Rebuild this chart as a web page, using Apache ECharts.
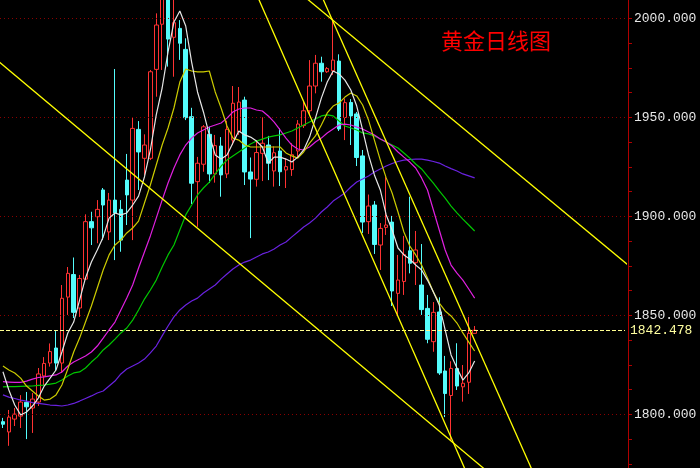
<!DOCTYPE html>
<html><head><meta charset="utf-8">
<script src="https://cdn.jsdelivr.net/npm/echarts@6/dist/echarts.min.js"></script>
<style>html,body{margin:0;padding:0;background:#000}#c{width:700px;height:468px}</style>
</head><body><div id="c"></div>
<script>
// ---- data ----
const slotCount = 106; // 81 trading days + empty room on the right
const categories = Array.from({length: slotCount}, (_, i) => String(i));

const opens = [1796.3,1791.1,1797.6,1799.1,1806.1,1803.2,1806.2,1819.4,1825.9,1833.5,
1825.9,1859.2,1870.6,1853.7,1868.3,1897.3,1899.8,1913.3,1892.1,1908.2,
1903.5,1918.3,1908.2,1943.9,1929.3,1929.3,1974.2,1997.0,2014.3,1990.4,
1994.9,1984.3,1950.3,1917.5,1926.3,1941.4,1921.4,1935.5,1921.4,1938.5,
1942.7,1958.7,1922.4,1918.7,1931.8,1936.0,1922.9,1933.0,1923.4,1923.6,
1933.0,1945.8,1953.3,1965.8,1977.3,1973.0,1973.5,1978.4,1949.9,1957.5,
1951.7,1930.5,1897.3,1905.7,1885.5,1894.4,1897.1,1861.1,1867.1,1882.6,
1876.6,1865.3,1853.5,1836.7,1851.7,1821.9,1809.5,1823.1,1813.9,1816.2,1840.9];
const closes = [1795.0,1798.6,1800.1,1806.2,1803.8,1807.7,1820.4,1825.7,1831.7,1825.9,
1858.6,1871.2,1851.5,1868.6,1897.3,1894.2,1903.5,1905.7,1908.2,1901.7,
1888.0,1910.8,1944.4,1932.5,1936.0,1973.0,1996.6,2015.3,1989.5,1997.8,
1987.4,1949.8,1916.7,1926.8,1945.2,1921.4,1935.7,1920.9,1943.9,1957.1,
1957.7,1922.4,1918.8,1932.2,1936.9,1926.8,1932.1,1922.5,1925.1,1931.1,
1946.6,1953.3,1965.8,1977.3,1973.0,1974.6,1978.9,1944.1,1957.4,1950.7,
1929.7,1897.1,1905.2,1885.8,1893.9,1895.6,1862.3,1867.8,1880.7,1876.3,
1883.0,1852.9,1837.9,1851.5,1820.9,1810.5,1823.2,1814.3,1815.7,1840.9,1842.478];
const lows = [1793.1,1784.1,1794.1,1793.1,1787.5,1790.6,1804.2,1814.8,1824.1,1821.9,
1820.9,1850.2,1848.6,1849.2,1867.8,1885.5,1886.4,1888.0,1888.0,1877.9,
1882.1,1895.6,1888.0,1913.3,1920.9,1928.4,1960.4,1973.9,1975.6,1970.5,
1979.0,1948.6,1906.2,1894.7,1922.5,1916.8,1917.0,1909.9,1919.3,1936.0,
1941.1,1915.8,1889.0,1915.0,1917.8,1918.3,1915.0,1915.3,1914.3,1920.4,
1929.4,1944.6,1951.2,1962.1,1968.0,1972.4,1971.4,1943.1,1938.5,1936.0,
1925.4,1891.6,1891.1,1881.0,1872.9,1890.6,1854.7,1849.7,1860.3,1871.2,
1865.3,1850.2,1835.9,1831.6,1819.9,1798.6,1786.5,1812.3,1806.4,1810.3,1840.9];
const highs = [1798.2,1802.2,1803.2,1809.7,1811.3,1810.8,1823.4,1828.9,1835.8,1842.1,
1865.3,1874.4,1879.2,1870.4,1901.0,1902.3,1908.2,1914.3,1911.8,1974.4,
1908.2,1931.5,1950.0,1948.1,1941.4,1973.9,2002.5,2019.3,2016.8,2011.8,
1999.1,1989.9,1954.8,1930.0,1946.1,1945.2,1941.1,1940.0,1948.3,1965.8,
1965.3,1960.4,1929.7,1938.3,1950.0,1940.6,1935.3,1944.4,1929.3,1936.9,
1948.6,1957.9,1978.9,1981.5,1980.6,1975.4,1999.1,1981.8,1959.5,1959.2,
1952.7,1933.5,1911.0,1907.7,1896.6,1920.0,1900.2,1880.5,1890.1,1909.9,
1892.6,1886.0,1860.3,1856.7,1859.1,1829.5,1826.8,1835.9,1824.9,1849.2,1844.6];

const ma5 = [1821.5,1812.3,1804.7,1799.7,1801.2,1804.2,1808.2,1814.3,1818.3,1822.4,
1831.5,1841.1,1846.6,1857.7,1868.9,1876.9,1883.0,1889.6,1899.1,1901.7,
1900.7,1901.7,1905.7,1910.2,1919.9,1933.5,1951.2,1964.8,1983.0,1998.1,
2003.7,1996.1,1977.9,1962.8,1952.7,1941.1,1931.0,1928.9,1931.0,1937.0,
1943.1,1941.1,1940.0,1938.0,1935.0,1926.9,1929.9,1929.9,1928.9,1927.4,
1929.9,1933.5,1940.0,1949.6,1959.7,1967.8,1973.4,1971.9,1968.8,1963.8,
1955.7,1943.6,1931.0,1920.9,1913.3,1900.7,1893.1,1884.0,1880.5,1878.4,
1875.4,1872.9,1867.8,1861.8,1855.2,1842.6,1830.0,1823.4,1817.3,1820.9,1826.9];
const ma10 = [1824.4,1822.4,1820.9,1818.3,1814.3,1811.8,1809.3,1807.2,1807.7,1809.8,
1814.8,1822.9,1831.5,1838.5,1846.6,1854.7,1863.8,1872.9,1880.5,1885.5,
1888.0,1891.6,1894.1,1897.6,1906.7,1915.8,1925.9,1936.0,1944.6,1954.7,
1967.8,1974.4,1973.4,1972.9,1972.9,1973.4,1962.8,1954.7,1945.6,1939.5,
1938.5,1936.0,1935.0,1935.0,1935.0,1935.0,1935.0,1935.0,1932.0,1930.5,
1929.4,1932.5,1937.0,1940.6,1946.1,1952.2,1955.7,1957.2,1960.2,1962.3,
1960.8,1956.2,1948.6,1938.5,1928.4,1919.4,1911.8,1902.2,1892.1,1885.0,
1880.5,1875.4,1868.9,1861.8,1856.2,1852.2,1849.7,1846.1,1841.1,1836.5,1832.0];
const ma20 = [1816.5,1816.3,1816.1,1816.1,1816.8,1817.8,1818.6,1818.9,1819.4,1819.9,
1821.4,1824.4,1826.4,1827.9,1829.5,1831.5,1834.5,1838.5,1842.6,1846.6,
1852.7,1858.7,1865.3,1873.9,1882.0,1890.1,1899.1,1908.2,1916.8,1924.4,
1931.0,1936.0,1939.5,1942.1,1943.6,1945.1,1946.1,1947.1,1949.6,1952.7,
1954.2,1954.7,1954.7,1953.7,1953.2,1950.7,1947.6,1943.6,1939.5,1936.0,
1934.0,1933.5,1935.0,1937.5,1939.5,1942.1,1944.1,1946.1,1946.6,1946.1,
1945.1,1944.1,1942.6,1941.1,1939.0,1937.5,1935.5,1932.5,1929.9,1927.4,
1924.4,1919.4,1913.3,1903.2,1893.1,1883.0,1875.4,1871.3,1867.8,1863.3,1858.7];
const ma30 = [1813.9,1814.0,1814.0,1814.1,1814.2,1814.3,1814.6,1814.8,1815.3,1815.8,
1817.3,1819.4,1820.9,1821.4,1823.4,1826.4,1829.0,1832.5,1835.0,1838.0,
1841.1,1843.6,1847.6,1852.7,1858.2,1862.8,1867.8,1874.4,1880.5,1885.5,
1893.1,1900.7,1905.7,1910.8,1914.3,1917.3,1921.4,1925.4,1928.4,1930.5,
1932.5,1934.5,1936.5,1938.0,1939.0,1940.0,1940.6,1941.1,1942.1,1943.1,
1944.6,1946.1,1947.6,1949.1,1950.7,1951.2,1950.7,1948.1,1945.6,1944.6,
1943.6,1942.1,1941.6,1940.6,1939.0,1937.5,1936.0,1934.5,1932.0,1929.4,
1926.4,1923.9,1920.3,1916.8,1912.8,1909.2,1905.2,1901.7,1898.6,1895.6,1892.6];
const ma60 = [1809.8,1808.7,1808.0,1807.2,1806.7,1805.9,1805.5,1805.2,1804.7,1804.5,
1804.2,1804.7,1805.5,1806.7,1808.0,1809.3,1810.8,1811.8,1814.3,1816.8,
1820.4,1822.9,1824.4,1825.9,1827.9,1831.0,1834.5,1839.6,1844.6,1849.2,
1852.7,1855.2,1857.2,1858.7,1861.3,1863.3,1865.3,1868.3,1870.9,1873.4,
1875.4,1876.9,1877.9,1879.5,1881.0,1882.0,1883.5,1885.5,1887.0,1889.6,
1892.1,1894.6,1896.6,1899.1,1902.2,1904.7,1907.7,1909.7,1911.8,1914.8,
1917.3,1918.8,1920.4,1922.4,1923.9,1925.4,1926.7,1927.7,1928.4,1928.7,
1928.9,1928.9,1928.4,1927.7,1926.9,1925.4,1924.1,1922.9,1921.4,1920.4,1919.4];

// hand-drawn trend lines: [dayIndex, price] endpoints
const trendA = [[-0.74, 1978.2], [82.74, 1769.7]];
const trendB = [[43.11, 2011.5], [78.69, 1770.1]];
const trendC = [[53.90, 2012.3], [89.99, 1770.2]];
const trendD = [[50.70, 2012.0], [108.03, 1870.4]];

const gridLevels = [1800, 1850, 1900, 1950, 2000];
const minorTicks = [1775,1787.5,1800,1812.5,1825,1837.5,1850,1862.5,1875,1887.5,1900,1912.5,1925,1937.5,1950,1962.5,1975,1987.5,2000];
const lastPrice = 1842.478;
const titleText = '黄金日线图';

// ---- chart ----
const kData = opens.map((o, i) => [o, closes[i], lows[i], highs[i]]);
const chart = echarts.init(document.getElementById('c'), null, {renderer: 'canvas'});
const maLine = (name, data, color) => ({
  name, type: 'line', data, xAxisIndex: 0, yAxisIndex: 0, showSymbol: false, symbol: 'none',
  smooth: false, z: 5, silent: true, lineStyle: {color, width: 1.2}
});
const trend = (name, data) => ({
  name, type: 'line', data, xAxisIndex: 1, yAxisIndex: 0, showSymbol: false, symbol: 'none',
  z: 6, silent: true, clip: true, lineStyle: {color: '#ffff00', width: 1.3}
});
chart.setOption({
  animation: false,
  backgroundColor: '#000000',
  title: {
    text: titleText, left: 441, top: 30, padding: 0,
    textStyle: {color: '#ff0000', fontSize: 22, fontWeight: 'normal', fontFamily: 'Noto Sans CJK SC'}
  },
  grid: {left: -3.6, right: 75, top: 0, bottom: 0, containLabel: false},
  xAxis: [
    {type: 'category', data: categories, boundaryGap: true, show: false},
    {type: 'value', min: -0.5, max: slotCount - 0.5, show: false}
  ],
  yAxis: {
    type: 'value', position: 'right', offset: 3, min: 1772.9, max: 2009.24,
    splitLine: {show: false},
    axisLine: {show: true, onZero: false, lineStyle: {color: '#b00000', width: 1}},
    axisTick: {show: true, inside: false, length: 4, customValues: minorTicks, lineStyle: {color: '#b00000'}},
    axisLabel: {
      show: true, customValues: gridLevels, margin: 6, color: '#e8e8e8',
      fontFamily: 'Liberation Mono', fontSize: 13,
      formatter: v => Number(v).toFixed(3)
    }
  },
  series: [
    {
      name: 'grid', type: 'line', data: [], z: 1, silent: true,
      markLine: {
        silent: true, symbol: 'none', animation: false,
        lineStyle: {color: '#8a0000', type: [1, 3], width: 1},
        label: {show: false},
        data: gridLevels.map(v => ({yAxis: v}))
      }
    },
    {
      name: 'K', type: 'candlestick', data: kData, barWidth: 4, z: 3, silent: true,
      itemStyle: {color: '#000000', color0: '#54fcfc', borderColor: '#ff3232', borderColor0: '#54fcfc', borderWidth: 1},
      markLine: {
        silent: true, symbol: 'none', animation: false,
        lineStyle: {color: '#ffff90', type: [4, 2], width: 1},
        label: {show: true, position: 'end', distance: 5, formatter: lastPrice.toFixed(3),
          color: '#ffffa0', fontFamily: 'Liberation Mono', fontSize: 13},
        data: [{yAxis: lastPrice}]
      }
    },
    maLine('MA60', ma60, '#6a22e0'),
    maLine('MA30', ma30, '#00c800'),
    maLine('MA20', ma20, '#e020e0'),
    maLine('MA10', ma10, '#cccc00'),
    maLine('MA5', ma5, '#e6e6e6'),
    trend('A', trendA), trend('B', trendB), trend('C', trendC), trend('D', trendD)
  ]
});
</script></body></html>
